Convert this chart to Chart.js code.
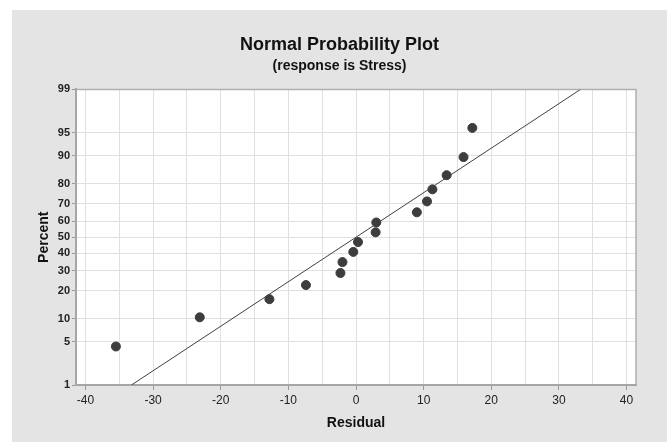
<!DOCTYPE html>
<html>
<head>
<meta charset="utf-8">
<script src="https://cdn.jsdelivr.net/npm/chart.js@4.4.1/dist/chart.umd.min.js"></script>
<style>
  html, body { margin: 0; padding: 0; background: #fff; }
  #wrap { width: 667px; height: 442px; }
</style>
</head>
<body>
<div id="wrap"><canvas id="npp" width="667" height="442"></canvas></div>
<script>
// residuals (x) and their plotting positions in percent (y)
const residuals = [-35.5, -23.1, -12.8, -7.4, -2.3, -2.0, -0.4, 0.3, 2.9, 3.0, 9.0, 10.5, 11.3, 13.4, 15.9, 17.2];
const percents = [4.27, 10.37, 16.46, 22.56, 28.66, 34.76, 40.85, 46.95, 53.05, 59.15, 65.24, 71.34, 77.44, 83.54, 89.63, 95.73];

// fitted normal line, end points
const fitX = [-33.2, 33.2];
const fitP = [1, 99];

const xTicks = [-40, -35, -30, -25, -20, -15, -10, -5, 0, 5, 10, 15, 20, 25, 30, 35, 40];
const percentTicks = [1, 5, 10, 20, 30, 40, 50, 60, 70, 80, 90, 95, 99];

// inverse normal cdf, used as the probability scale transform
function probit(p) {
    const a = [-3.969683028665376e+01, 2.209460984245205e+02, -2.759285104469687e+02, 1.383577518672690e+02, -3.066479806614716e+01, 2.506628277459239e+00];
    const b = [-5.447609879822406e+01, 1.615858368580409e+02, -1.556989798598866e+02, 6.680131188771972e+01, -1.328068155288572e+01];
    const c = [-7.784894002430293e-03, -3.223964580411365e-01, -2.400758277161838e+00, -2.549732539343734e+00, 4.374664141464968e+00, 2.938163982698783e+00];
    const d = [7.784695709041462e-03, 3.224671290700398e-01, 2.445134137142996e+00, 3.754408661907416e+00];
    const pl = 0.02425;
    let q, r;
    if (p < pl) {
        q = Math.sqrt(-2 * Math.log(p));
        return (((((c[0]*q+c[1])*q+c[2])*q+c[3])*q+c[4])*q+c[5]) / ((((d[0]*q+d[1])*q+d[2])*q+d[3])*q+1);
    }
    if (p > 1 - pl) {
        q = Math.sqrt(-2 * Math.log(1 - p));
        return -(((((c[0]*q+c[1])*q+c[2])*q+c[3])*q+c[4])*q+c[5]) / ((((d[0]*q+d[1])*q+d[2])*q+d[3])*q+1);
    }
    q = p - 0.5;
    r = q * q;
    return (((((a[0]*r+a[1])*r+a[2])*r+a[3])*r+a[4])*r+a[5])*q / (((((b[0]*r+b[1])*r+b[2])*r+b[3])*r+b[4])*r+1);
}
const z = pct => probit(pct / 100);

const points = residuals.map((r, i) => ({ x: r, y: z(percents[i]) }));
const fitLine = fitX.map((v, i) => ({ x: v, y: z(fitP[i]) }));

const panelBg = {
    id: 'panelBg',
    beforeDraw(chart) {
        const ctx = chart.ctx, a = chart.chartArea;
        ctx.save();
        ctx.fillStyle = '#e4e4e4';
        ctx.fillRect(12, 10, chart.width - 12, chart.height - 10);
        ctx.fillStyle = '#ffffff';
        ctx.fillRect(a.left, a.top, a.right - a.left, a.bottom - a.top);
        ctx.restore();
    },
    beforeDatasetsDraw(chart) {
        const ctx = chart.ctx, a = chart.chartArea;
        ctx.save();
        ctx.strokeStyle = '#b0b0b0';
        ctx.lineWidth = 1.5;
        ctx.beginPath();
        ctx.moveTo(a.left, a.top);
        ctx.lineTo(a.right, a.top);
        ctx.lineTo(a.right, a.bottom);
        ctx.stroke();
        ctx.restore();
    }
};

const font = 'Liberation Sans, Arial, sans-serif';

new Chart(document.getElementById('npp').getContext('2d'), {
    type: 'scatter',
    data: {
        datasets: [{
            label: 'Residuals',
            data: points,
            backgroundColor: '#3d3d3d',
            borderColor: '#3d3d3d',
            pointRadius: 4.5,
            pointHoverRadius: 4.5
        }, {
            type: 'line',
            label: 'Fit',
            data: fitLine,
            borderColor: '#404040',
            borderWidth: 1,
            pointRadius: 0,
            fill: false
        }]
    },
    options: {
        responsive: false,
        animation: false,
        layout: { padding: { left: 12, right: 0, top: 10, bottom: 0 } },
        plugins: {
            legend: { display: false },
            tooltip: { enabled: false },
            title: {
                display: true,
                text: 'Normal Probability Plot',
                color: '#111',
                font: { family: font, size: 18, weight: 'bold' },
                padding: { top: 24, bottom: 2 }
            },
            subtitle: {
                display: true,
                text: '(response is Stress)',
                color: '#111',
                font: { family: font, size: 14, weight: 'bold' },
                padding: { top: 0, bottom: 15 }
            }
        },
        scales: {
            x: {
                type: 'linear',
                min: -41.4,
                max: 41.4,
                afterBuildTicks: s => { s.ticks = xTicks.map(v => ({ value: v })); },
                afterFit: s => { s.height = 57; },
                grid: {
                    color: '#e0e0e0',
                    tickLength: 5,
                    tickColor: c => (c.tick && c.tick.value % 10 === 0) ? '#999' : 'rgba(0,0,0,0)'
                },
                border: { color: '#a6a6a6', width: 2 },
                ticks: {
                    color: '#222',
                    padding: 3,
                    maxRotation: 0,
                    autoSkip: false,
                    font: { family: font, size: 12 },
                    callback: v => (v % 10 === 0 ? String(v) : '')
                },
                title: {
                    display: true,
                    text: 'Residual',
                    color: '#111',
                    font: { family: font, size: 14, weight: 'bold' },
                    padding: { top: 0, bottom: 10 }
                }
            },
            y: {
                type: 'linear',
                min: z(1),
                max: z(99),
                afterBuildTicks: s => { s.ticks = percentTicks.map(p => ({ value: z(p) })); },
                afterFit: s => { s.width = 64; },
                grid: { color: '#e0e0e0', tickLength: 4, tickColor: '#999' },
                border: { color: '#a6a6a6', width: 2 },
                ticks: {
                    color: '#222',
                    padding: 2,
                    autoSkip: false,
                    font: { family: font, size: 11, weight: 'bold' },
                    callback: (v, i) => String(percentTicks[i])
                },
                title: {
                    display: true,
                    text: 'Percent',
                    color: '#111',
                    font: { family: font, size: 14, weight: 'bold' },
                    padding: { top: 24, bottom: 0 }
                }
            },
            yRight: {
                type: 'linear',
                position: 'right',
                display: true,
                afterFit: s => { s.width = 31; },
                grid: { display: false, drawTicks: false },
                border: { display: false },
                ticks: { display: false }
            }
        }
    },
    plugins: [panelBg]
});
</script>
</body>
</html>
